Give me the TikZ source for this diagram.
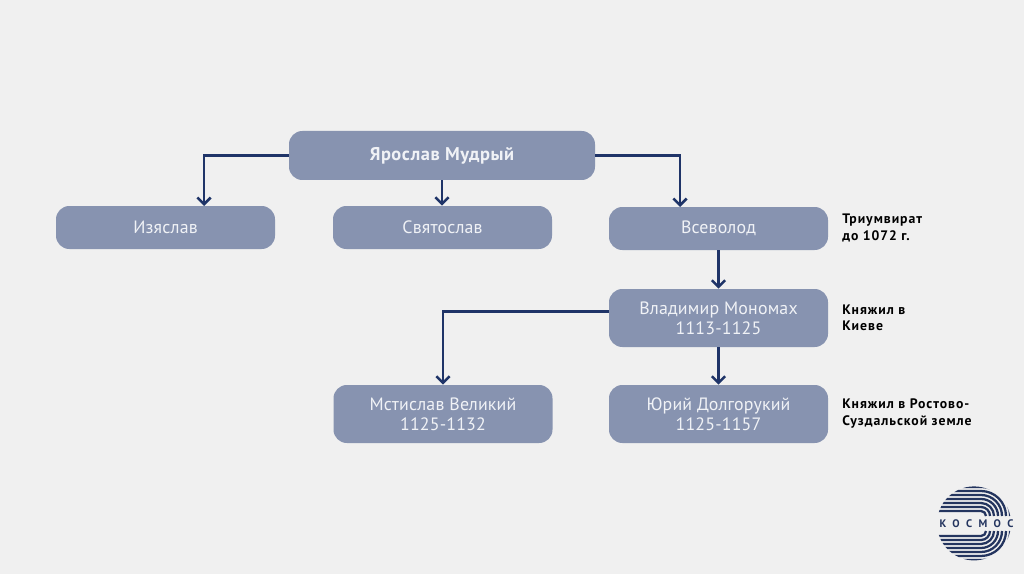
\documentclass[tikz,border=0pt]{standalone}
\usepackage{fontspec}
\setmainfont{PT Sans}
\newfontfamily\boxfont[LetterSpace=1]{PT Sans}
\newfontfamily\titlefont[LetterSpace=3]{PT Sans}
\newfontfamily\notefont[LetterSpace=7]{PT Sans}
\newfontfamily\logofont[LetterSpace=58]{PT Sans}
\usetikzlibrary{arrows.meta,calc}
\definecolor{bgc}{HTML}{F0F0F0}
\definecolor{boxc}{HTML}{8793B0}
\definecolor{linec}{HTML}{1F3468}
\definecolor{logoc}{HTML}{24355F}
\definecolor{txtc}{HTML}{F0F2F6}
\tikzset{
  x=0.75pt,y=-0.75pt,
  box/.style={fill=boxc,rounded corners=10pt,text=txtc,font=\boxfont\fontsize{13.4pt}{15pt}\selectfont,align=center,inner sep=0pt,minimum width=164.25pt},
  small/.style={box,minimum height=32.25pt},
  tall/.style={box,minimum height=43.5pt},
  note/.style={anchor=west,align=left,text=black,inner sep=0pt,font=\notefont\bfseries\fontsize{10.3pt}{12.4pt}\selectfont},
  conn/.style={draw=linec,line width=1.8pt,-{Straight Barb[length=5pt,width=10pt,line width=1.9pt]}},
  stripe/.style={draw=logoc,line width=1.7pt}
}
\begin{document}
\begin{tikzpicture}
\useasboundingbox (0,0) rectangle (1024,574);
\fill[bgc] (0,0) rectangle (1024,574);
\node[box,minimum width=229.5pt,minimum height=36.75pt,font=\titlefont\bfseries\fontsize{13.8pt}{15pt}\selectfont] (yar) at (442,155.5) {Ярослав Мудрый};
\node[small] (izy) at (165.5,227.5) {Изяслав};
\node[small] (svy) at (442.5,227.5) {Святослав};
\node[small] (vse) at (718.5,228.5) {Всеволод};
\node[tall] (mon) at (718.5,318) {Владимир Мономах\\1113-1125};
\node[tall] (mst) at (443,414) {Мстислав Великий\\1125-1132};
\node[tall] (yur) at (718.5,414) {Юрий Долгорукий\\1125-1157};
\node[note] (n1) at (842,228) {Триумвират\\до 1072 г.};
\node[note] (n2) at (842,318) {Княжил в\\Киеве};
\node[note] (n3) at (842,413.5) {Княжил в Ростово-\\Суздальской земле};
\coordinate (izyin) at (204,206);
\coordinate (vsein) at (680,207);
\coordinate (yarl) at (yar.west);
\coordinate (yarr) at (yar.east);
\coordinate (monl) at (609,311.5);
\draw[conn] (yarl) -| (izyin);
\draw[conn] (yarr) -| (vsein);
\draw[conn] (yar.south) -- (yar.south |- svy.north);
\draw[conn] (vse.south) -- (mon.north);
\draw[conn] (mon.south) -- (yur.north);
\draw[conn] (monl) -| (mst.north);
% logo
\begin{scope}
\clip (974,523.4) circle[radius=27.75pt];
\begin{scope}[shift={(981,516)},x=0.75pt,y=0.75pt]
\foreach \r in {29,25,21,17,13,9,5}{
  \draw[stripe] (-60,\r) -- (0,\r) arc[start angle=90,end angle=0,radius=\r*0.75pt];
}
\end{scope}
\begin{scope}[shift={(981,531)},x=0.75pt,y=0.75pt]
\foreach \r in {29,25,21,17,13,9,5}{
  \draw[stripe] (-60,-\r) -- (0,-\r) arc[start angle=270,end angle=360,radius=\r*0.75pt];
}
\end{scope}
\end{scope}
\node[text=logoc,inner sep=0pt,font=\logofont\bfseries\fontsize{8.2pt}{9pt}\selectfont] (logo) at (976.5,523.5) {КОСМОС};
\end{tikzpicture}
\end{document}
